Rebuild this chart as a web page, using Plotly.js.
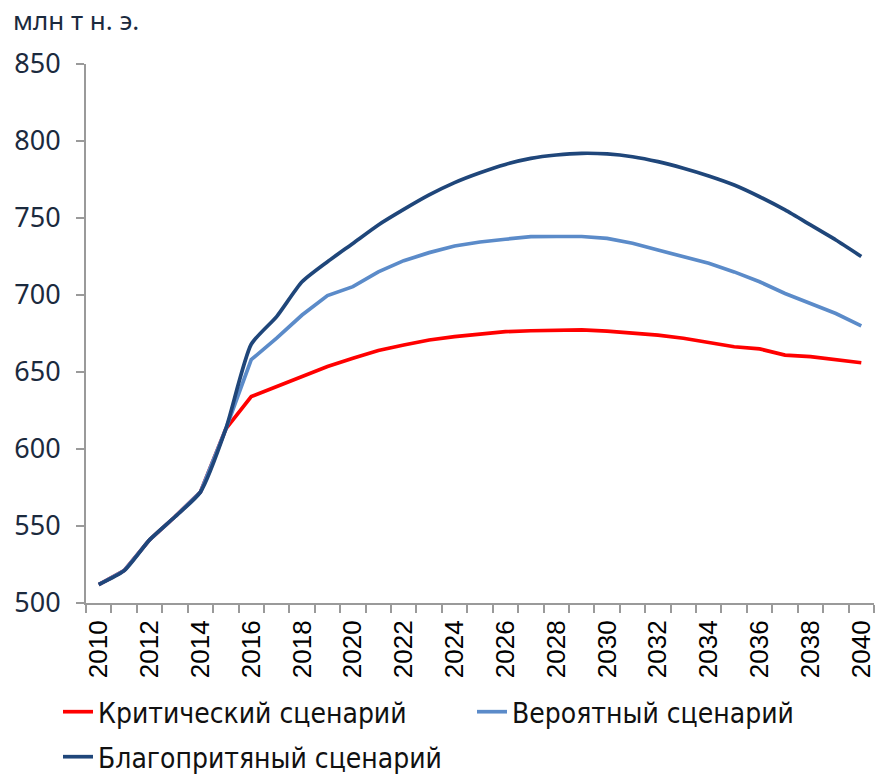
<!DOCTYPE html>
<html>
<head>
<meta charset="utf-8">
<script src="https://cdn.plot.ly/plotly-3.0.1.min.js"></script>
<style>html,body{margin:0;padding:0;background:#fff;}#chart{width:878px;height:775px;}</style>
</head>
<body>
<div id="chart"></div>
<script>
const years = [2010,2011,2012,2013,2014,2015,2016,2017,2018,2019,2020,2021,2022,2023,2024,2025,2026,2027,2028,2029,2030,2031,2032,2033,2034,2035,2036,2037,2038,2039,2040];
const critical = [512,521,541,556,572,613,634,640.5,647,653.5,659,664,667.5,670.8,673,674.7,676.2,676.8,677,677.3,676.6,675.5,674,671.9,669,666.4,665,661,660,658.2,656];
const probable = [512,521,541,556,572,613,658,672,687,699.6,705.4,715,722.3,727.5,731.8,734.4,736.2,737.9,738,738,736.8,733.6,729.2,724.9,720.6,715,708.6,701,694.6,688,680];
const favorable = [512,521,541,556,572,613,668,686,708.6,721.6,733.5,745.5,755.6,765,773,779.4,784.8,788.7,790.9,792,791.6,789.8,786.6,782.3,777.3,771.4,763.8,755.2,745.5,735.7,725];
const names = ["Критический сценарий","Вероятный сценарий","Благопритяный сценарий"];
const colors = ["#FF0000","#5B8BC9","#1F467A"];
const yTicks = [500,550,600,650,700,750,800,850];
const xTickYears = [2010,2012,2014,2016,2018,2020,2022,2024,2026,2028,2030,2032,2034,2036,2038,2040];
const unitLabel = "млн т н. э.";

const series = [critical, probable, favorable];
const shapes = ["linear","linear","spline"];
const legendIds = ['legend','legend2','legend3'];
const traces = series.map((s,i)=>({
  x: years, y: s, type: 'scatter', mode: 'lines', name: names[i],
  line: {color: colors[i], width: 3.7, shape: shapes[i], smoothing: 0.6},
  legend: legendIds[i],
  hoverinfo: 'skip'
}));

const legendFont = {family: '"DejaVu Sans Condensed", "Liberation Sans Narrow", "Liberation Sans", sans-serif', size: 28, color: '#111'};
const legBase = {orientation: 'h', xanchor: 'left', yanchor: 'middle', font: legendFont, bgcolor: 'rgba(0,0,0,0)', borderwidth: 0};

const layout = {
  width: 878, height: 775,
  margin: {l: 86, r: 4, t: 64, b: 172, autoexpand: false},
  paper_bgcolor: '#fff', plot_bgcolor: '#fff',
  showlegend: true,
  xaxis: {
    type: 'linear', range: [2009.5, 2040.5],
    tickvals: xTickYears, ticktext: xTickYears.map(String),
    ticks: '', tickangle: -90, ticklabelstandoff: 5,
    tickfont: {family: '"Liberation Sans", Arial, sans-serif', size: 26, color: '#000'},
    showgrid: false, zeroline: false,
    showline: true, linecolor: '#9a9a9a', linewidth: 2,
    minor: {tick0: 2009.5, dtick: 1, ticks: 'outside', ticklen: 8, tickcolor: '#9a9a9a', tickwidth: 2, showgrid: false},
    fixedrange: true, automargin: false
  },
  yaxis: {
    range: [500, 850], tickvals: yTicks, ticktext: yTicks.map(String),
    ticks: 'outside', ticklen: 8, tickcolor: '#9a9a9a', tickwidth: 2,
    ticklabelstandoff: 10,
    tickfont: {family: '"Noto Sans", "Open Sans", sans-serif', size: 27, color: '#1b2a3e'},
    showgrid: false, zeroline: false,
    showline: true, linecolor: '#9a9a9a', linewidth: 2,
    fixedrange: true, automargin: false
  },
  legend: Object.assign({}, legBase, {x: (58-86)/788, y: -(712-603)/539}),
  legend2: Object.assign({}, legBase, {x: (472-86)/788, y: -(712-603)/539}),
  legend3: Object.assign({}, legBase, {x: (58-86)/788, y: -(757-603)/539}),
  annotations: [{
    text: unitLabel, xref: 'paper', yref: 'paper',
    x: -86/788, y: 1 + 44/539, xanchor: 'left', yanchor: 'middle',
    showarrow: false, xshift: 11,
    font: {family: '"Noto Sans", "Open Sans", sans-serif', size: 26, color: '#1b2a3e'}
  }]
};

Plotly.newPlot('chart', traces, layout, {displayModeBar: false, staticPlot: true});
</script>
</body>
</html>
